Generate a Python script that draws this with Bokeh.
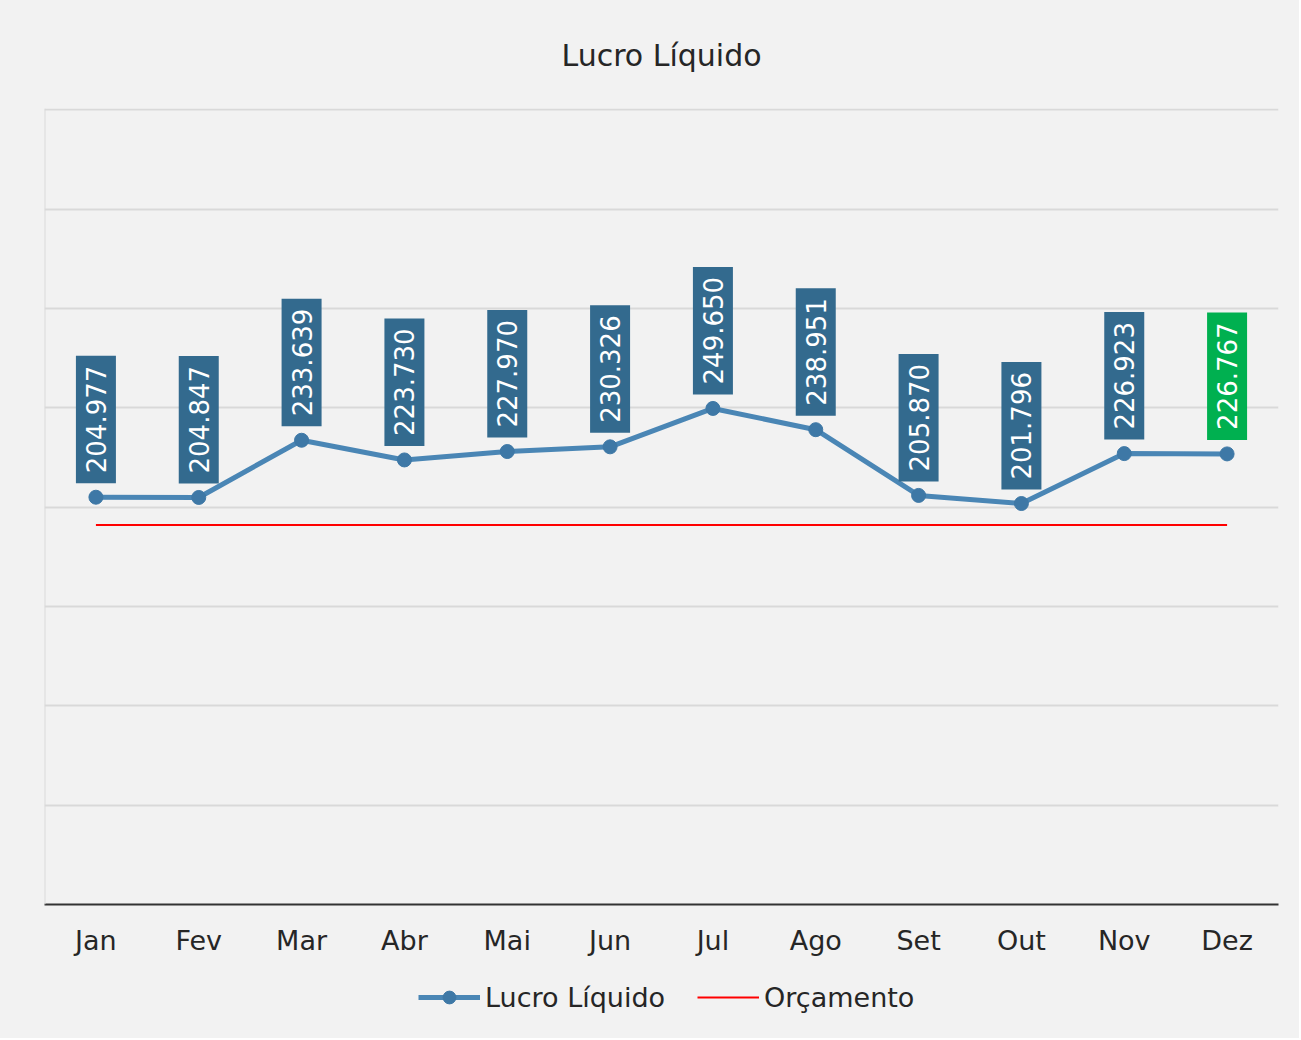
import math
from bokeh.plotting import figure
from bokeh.layouts import column
from bokeh.models import ColumnDataSource, Range1d, FixedTicker, Legend, LegendItem, Span
from bokeh.core.properties import value
from bokeh.embed import file_html
from bokeh.resources import INLINE

meses = ["Jan", "Fev", "Mar", "Abr", "Mai", "Jun", "Jul", "Ago", "Set", "Out", "Nov", "Dez"]
lucro = [204.977, 204.847, 233.639, 223.730, 227.970, 230.326, 249.650, 238.951, 205.870, 201.796, 226.923, 226.767]
orcamento = [191, 191, 191, 191, 191, 191, 191, 191, 191, 191, 191, 191]
rotulos = ["204.977", "204.847", "233.639", "223.730", "227.970", "230.326", "249.650", "238.951", "205.870", "201.796", "226.923", "226.767"]
cores_rotulo = ["#336A8E"] * 11 + ["#00B050"]
y_ticks = [0, 50, 100, 150, 200, 250, 300, 350, 400]

FONT = "DejaVu Sans"
BG = "#F2F2F2"
LINE_C = "#4A86B5"
PT_C = "#3E78A6"
RED = "#FF0000"

src = ColumnDataSource(dict(mes=meses, lucro=lucro, orc=orcamento, rot=rotulos, cor=cores_rotulo))

p = figure(x_range=meses, y_range=Range1d(0, 400.6), frame_width=1234, frame_height=796,
           output_backend="svg", toolbar_location=None,
           min_border_left=44, min_border_right=21, min_border_top=108, min_border_bottom=60)
p.background_fill_color = BG
p.border_fill_color = BG
p.outline_line_color = None

p.title.text = "Lucro Líquido"
p.title.align = "center"
p.title.text_font = FONT
p.title.text_font_size = "30px"
p.title.text_font_style = "normal"
p.title.text_color = "#262626"
p.title.standoff = 71

p.xgrid.grid_line_color = None
p.ygrid.ticker = FixedTicker(ticks=y_ticks)
p.ygrid.grid_line_color = "#D9D9D9"
p.ygrid.grid_line_width = 2

p.yaxis.visible = False
p.add_layout(Span(location=0, dimension="height", line_color="#D9D9D9", line_width=2))

p.xaxis.axis_line_color = "#333333"
p.xaxis.axis_line_width = 2
p.xaxis.major_tick_line_color = None
p.xaxis.major_tick_out = 0
p.xaxis.major_label_standoff = 20
p.xaxis.major_label_text_font = FONT
p.xaxis.major_label_text_font_size = "27px"
p.xaxis.major_label_text_color = "#262626"

p.line(x="mes", y="orc", source=src, line_color=RED, line_width=2)
p.line(x="mes", y="lucro", source=src, line_color=LINE_C, line_width=5)
p.scatter(x="mes", y="lucro", source=src, size=14, fill_color=PT_C, line_color=PT_C)

p.text(x="mes", y="lucro", text="rot", source=src, angle=math.pi / 2,
       text_align="left", text_baseline="middle", y_offset=-14,
       text_font=value(FONT), text_font_size="26px", text_color="white",
       background_fill_color="cor", padding=dict(left=10, right=10, top=10, bottom=10))

# legend strip below the chart (series drawn out of view, only the legend shows)
leg = figure(frame_width=1299, frame_height=74, output_backend="svg", toolbar_location=None,
             min_border_left=0, min_border_right=0, min_border_top=0, min_border_bottom=0,
             x_range=p.x_range, y_range=Range1d(-1001, -1000))
leg.background_fill_color = BG
leg.border_fill_color = BG
leg.outline_line_color = None
leg.axis.visible = False
leg.grid.visible = False
l_line = leg.line(x="mes", y="lucro", source=src, line_color=LINE_C, line_width=5)
l_pts = leg.scatter(x="mes", y="lucro", source=src, size=14, fill_color=PT_C, line_color=PT_C)
l_orc = leg.line(x="mes", y="orc", source=src, line_color=RED, line_width=2)

legend = Legend(items=[LegendItem(label="Lucro Líquido", renderers=[l_line, l_pts]),
                       LegendItem(label="Orçamento", renderers=[l_orc])],
                orientation="horizontal", location=(418, 25))
legend.label_text_font = FONT
legend.label_text_font_size = "27px"
legend.label_text_color = "#262626"
legend.glyph_width = 62
legend.glyph_height = 32
legend.spacing = 32
legend.padding = 10
legend.margin = 0
legend.background_fill_alpha = 0
legend.border_line_color = None
leg.add_layout(legend, "center")

layout = column(p, leg, spacing=0)
layout.background = BG

open("out.html", "w").write(file_html(layout, INLINE))
